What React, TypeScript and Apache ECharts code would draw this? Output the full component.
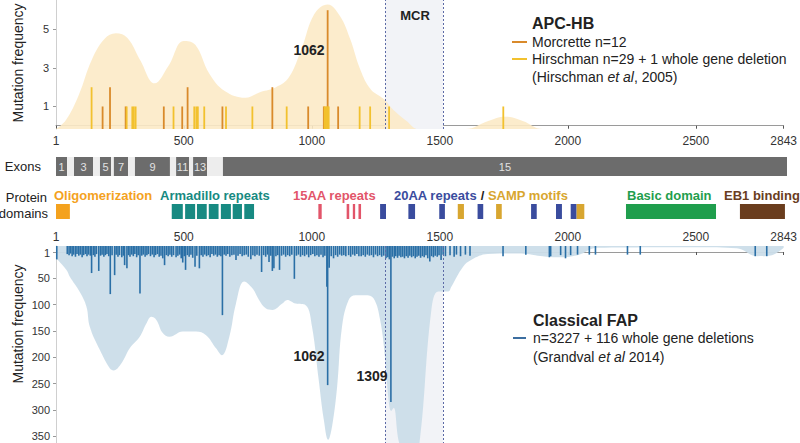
import React, { useEffect, useRef } from 'react';
import * as echarts from 'echarts';

const FONT = '"Liberation Sans", Arial, Helvetica, sans-serif';

// Codon axis
const X_MIN = 1;
const X_MAX = 2843;
const xTickValues = [1, 500, 1000, 1500, 2000, 2500, 2843];
const topYTicks = [1, 3, 5];
const bottomYTicks = [1, 50, 100, 150, 200, 250, 300, 350];
const TOP_Y_MIN = -0.17;
const TOP_Y_MAX = 6.53;
const BOT_Y_MIN = -11.4;
const BOT_Y_MAX = 363;

// Mutation cluster region
const mcrRange = [1286, 1513];

// APC-HB: Morcrette (orange) and Hirschman (yellow) mutations [codon, count]
const morcretteBars = [
  [183, 1], [212, 2], [273, 1], [422, 1], [494, 1], [515, 2], [651, 1],
  [846, 2], [986, 1], [1047, 1], [1062, 6], [1103, 1],
];
const hirschmanBars = [
  [140, 2], [277, 1], [299, 1], [305, 1], [312, 1], [460, 1], [541, 1],
  [549, 1], [555, 1], [580, 1], [665, 1], [768, 1], [902, 1], [1050, 1],
  [1054, 1], [1058, 1], [1062, 1], [1066, 1], [1187, 1], [1228, 1],
  [1302, 1], [1748, 1],
];
// APC-HB density envelope [codon, level]
const hbDensity = [
  [1, -0.17], [40, 0.3], [90, 1.6], [140, 3.4], [190, 4.5], [235, 4.8],
  [280, 4.55], [330, 3.4], [386, 2.2], [440, 3.1], [500, 4.4], [545, 4.2],
  [600, 2.7], [660, 1.8], [740, 1.45], [800, 1.75], [860, 2.0], [910, 2.5],
  [960, 4.0], [1010, 5.8], [1062, 6.3], [1110, 5.7], [1150, 4.5], [1190, 2.9],
  [1230, 1.9], [1280, 1.4], [1320, 0.8], [1370, 0.25], [1416, -0.17],
  [1600, -0.17], [1689, 0.25], [1755, 0.47], [1824, 0.25], [1902, -0.17],
  [2843, -0.17],
];

// Classical FAP mutations [codon, count]
const fapBars = [
  [4, 14], [45, 4], [52, 6], [58, 3], [64, 8], [70, 5], [77, 9], [83, 4], [90, 7],
  [96, 5], [103, 10], [109, 6], [116, 4], [122, 8], [128, 5], [135, 7], [140, 40],
  [147, 6], [153, 9], [159, 4], [168, 36], [175, 7], [181, 5], [188, 9], [194, 6],
  [200, 4], [207, 8], [213, 80], [220, 6], [230, 44], [236, 5], [243, 9], [249, 6],
  [258, 10], [264, 7], [269, 25], [278, 31], [284, 6], [290, 9], [297, 5], [303, 8],
  [309, 4], [316, 10], [322, 6], [329, 79], [336, 7], [342, 5], [349, 9], [356, 6],
  [362, 4], [370, 8], [377, 5], [384, 10], [390, 6], [397, 4], [404, 9], [411, 7],
  [418, 12], [425, 25], [432, 6], [439, 8], [446, 5], [453, 9], [460, 6], [470, 10],
  [477, 7], [484, 5], [490, 12], [496, 20], [502, 8], [507, 34], [514, 6], [521, 9],
  [528, 5], [535, 11], [544, 28], [551, 7], [561, 31], [568, 6], [575, 9], [582, 5],
  [589, 8], [596, 6], [603, 10], [610, 4], [617, 7], [624, 5], [631, 9], [638, 6],
  [645, 8], [651, 120], [658, 5], [665, 7], [672, 4], [680, 9], [688, 6], [696, 5],
  [704, 15], [712, 7], [720, 4], [728, 8], [736, 6], [744, 5], [752, 9], [762, 14],
  [770, 6], [778, 8], [786, 5], [795, 7], [804, 38], [812, 6], [820, 9], [827, 5],
  [833, 19], [840, 7], [846, 36], [852, 31], [860, 8], [867, 6], [874, 34], [882, 7],
  [890, 5], [898, 9], [906, 6], [914, 8], [922, 5], [932, 51], [940, 7], [948, 5],
  [956, 9], [964, 6], [972, 8], [980, 5], [988, 10], [996, 6], [1004, 4], [1012, 8],
  [1020, 6], [1028, 9], [1036, 5], [1044, 10], [1051, 7], [1059, 66], [1062, 253],
  [1068, 30], [1076, 8], [1085, 12], [1093, 6], [1101, 9], [1109, 5], [1117, 7],
  [1125, 6], [1133, 8], [1144, 6], [1152, 9], [1160, 5], [1168, 7], [1176, 4],
  [1184, 8], [1193, 8], [1201, 6], [1209, 9], [1217, 5], [1225, 7], [1233, 6],
  [1241, 10], [1249, 5], [1257, 8], [1265, 6], [1273, 9], [1281, 7], [1290, 12],
  [1297, 10], [1303, 14], [1309, 285], [1315, 9], [1322, 12], [1328, 8], [1335, 11],
  [1341, 7], [1348, 10], [1355, 9], [1362, 12], [1369, 8], [1376, 11], [1383, 7],
  [1390, 10], [1397, 8], [1404, 12], [1411, 9], [1418, 7], [1425, 11], [1432, 8],
  [1439, 10], [1446, 6], [1453, 12], [1461, 18], [1468, 8], [1475, 10], [1482, 7],
  [1490, 9], [1497, 6], [1505, 15], [1513, 5], [1522, 8], [1540, 6], [1556, 9],
  [1565, 5], [1581, 8], [1600, 5], [1618, 7], [1747, 8], [1836, 5], [1928, 10],
  [1933, 8], [1972, 6], [1991, 12], [2011, 6], [2038, 5], [2084, 5], [2108, 5],
  [2233, 5], [2283, 5], [2732, 8], [2777, 8],
];
// Classical FAP density envelope [codon, level]
const fapDensity = [
  [1, 12], [42, 34], [55, 47], [94, 76], [120, 104], [133, 142], [172, 186],
  [211, 221], [226, 225], [256, 212], [289, 183], [328, 161], [354, 136],
  [373, 123], [393, 129], [418, 154], [444, 161], [496, 151], [548, 151],
  [587, 158], [626, 183], [649, 196], [678, 161], [704, 98], [736, 56],
  [768, 69], [794, 91], [820, 107], [846, 110], [885, 98], [904, 91], [937, 98],
  [976, 101], [1001, 142], [1027, 243], [1047, 319], [1064, 357], [1079, 332],
  [1099, 256], [1118, 142], [1144, 91], [1170, 82], [1209, 82], [1241, 88],
  [1267, 129], [1287, 205], [1300, 281], [1310, 302], [1320, 296], [1340, 360],
  [1380, 420], [1416, 380], [1467, 110], [1494, 75], [1533, 75], [1545, 66],
  [1591, 28], [1622, 15], [1688, 4], [1805, 3], [1902, 8], [1960, 10], [2038, 6],
  [2116, -8], [2505, -9], [2660, -7], [2738, 8], [2797, 6], [2843, -8],
];

// Exon boundaries on the codon axis [start, end, exon number]
const exonStarts = [1, 44, 71, 145, 172, 215, 226, 281, 308, 444, 468, 518, 534, 588, 650];
const exonEnds = [44, 71, 145, 172, 215, 226, 281, 308, 444, 468, 518, 534, 588, 650, 2843];
const exonNumbers = [1, 2, 3, 4, 5, 6, 7, 8, 9, 10, 11, 12, 13, 14, 15];

// Protein domains [start, end, kind]
// kinds: 0 oligomerization, 1 armadillo, 2 15AA, 3 20AA, 4 SAMP, 5 basic, 6 EB1
const domainStarts = [1, 451, 503, 549, 595, 642, 688, 733, 1021, 1131, 1155, 1177,
  1261, 1371, 1491, 1640, 1848, 1945, 2002, 1563, 1712, 2025, 2217, 2660];
const domainEnds = [55, 494, 542, 587, 633, 681, 724, 771, 1034, 1141, 1164, 1187,
  1284, 1397, 1513, 1662, 1870, 1968, 2025, 1587, 1734, 2055, 2567, 2835];
const domainKinds = [0, 1, 1, 1, 1, 1, 1, 1, 2, 2, 2, 2, 3, 3, 3, 3, 3, 3, 3, 4, 4, 4, 5, 6];

const C = {
  olig: '#F4A21E',
  arm: '#178A82',
  aa15: '#E2556A',
  aa20: '#3A4C9E',
  samp: '#D8A630',
  basic: '#1F9E4D',
  eb1: '#6A3D1E',
  orange: '#D98A2B',
  yellow: '#F2C12E',
  hbArea: '#FCEAC6',
  fapBar: '#2A6FA6',
  fapArea: '#CBDDE9',
  mcr: '#F2F3F7',
  mcrLine: '#5C6AA6',
  axis: '#9A9A9A',
  text: '#222222',
};
const domainColors = [C.olig, C.arm, C.aa15, C.aa20, C.samp, C.basic, C.eb1];

const makeBarRender = (base: number, width: number, color: string) =>
  (_params: any, api: any) => {
    const x = api.value(0);
    const v = api.value(1);
    const top = api.coord([x, v]);
    const bottom = api.coord([x, base]);
    return {
      type: 'rect',
      shape: {
        x: top[0] - width / 2,
        y: Math.min(top[1], bottom[1]),
        width,
        height: Math.abs(top[1] - bottom[1]),
      },
      style: { fill: color },
    };
  };

const gridLeft = 56;
const gridWidth = 731;

const xAxisBase = (gridIndex: number, show: boolean, position: string) => ({
  type: 'value',
  gridIndex,
  min: X_MIN,
  max: X_MAX,
  show,
  position,
  splitLine: { show: false },
  axisLine: { show: true, lineStyle: { color: C.axis, width: 1 } },
  axisTick: {
    show: true,
    inside: position === 'top',
    length: 3,
    customValues: xTickValues,
    lineStyle: { color: '#555' },
  },
  axisLabel: {
    customValues: xTickValues,
    formatter: (v: number) => String(Math.round(v)),
    fontSize: 12,
    color: '#333',
    fontFamily: FONT,
    margin: position === 'top' ? 3 : 6,
  },
});

export default function App() {
  const ref = useRef<HTMLDivElement>(null);

  useEffect(() => {
    if (!ref.current) return;
    const chart = echarts.init(ref.current, null, { renderer: 'svg' });

    const exonData = exonStarts.map((s, i) => [s, exonEnds[i], exonNumbers[i]]);
    const domainData = domainStarts.map((s, i) => [s, domainEnds[i], domainKinds[i]]);

    const txt = (x: number, y: number, text: string, extra: any = {}, rich?: any) => ({
      type: 'text',
      x,
      y,
      silent: true,
      z: 100,
      style: {
        text,
        fill: extra.fill || C.text,
        fontSize: extra.fontSize || 14,
        fontWeight: extra.fontWeight || 'normal',
        fontFamily: FONT,
        align: extra.align || 'left',
        verticalAlign: 'middle',
        rich,
      },
      rotation: extra.rotation || 0,
    });

    const option: any = {
      animation: false,
      backgroundColor: '#ffffff',
      grid: [
        { left: gridLeft, top: 0, width: gridWidth, height: 129 },
        { left: gridLeft, top: 157, width: gridWidth, height: 19 },
        { left: gridLeft, top: 204, width: gridWidth, height: 15 },
        { left: gridLeft, top: 246, width: gridWidth, height: 197 },
      ],
      xAxis: [
        xAxisBase(0, true, 'bottom'),
        { ...xAxisBase(1, false, 'bottom') },
        { ...xAxisBase(2, false, 'bottom') },
        xAxisBase(3, true, 'top'),
      ],
      yAxis: [
        {
          type: 'value', gridIndex: 0, min: TOP_Y_MIN, max: TOP_Y_MAX,
          splitLine: { show: false },
          axisLine: { show: true, lineStyle: { color: '#cfcfcf' } },
          axisTick: { show: true, length: 3, customValues: topYTicks, lineStyle: { color: '#999' } },
          axisLabel: { customValues: topYTicks, fontSize: 11, color: '#333', fontFamily: FONT, margin: 7 },
        },
        { type: 'value', gridIndex: 1, min: 0, max: 1, show: false },
        { type: 'value', gridIndex: 2, min: 0, max: 1, show: false },
        {
          type: 'value', gridIndex: 3, min: BOT_Y_MIN, max: BOT_Y_MAX, inverse: true,
          splitLine: { show: false },
          axisLine: { show: true, lineStyle: { color: '#cfcfcf' } },
          axisTick: { show: true, length: 3, customValues: bottomYTicks, lineStyle: { color: '#999' } },
          axisLabel: { customValues: bottomYTicks, fontSize: 11, color: '#333', fontFamily: FONT, margin: 6 },
        },
      ],
      series: [
        {
          type: 'line', xAxisIndex: 0, yAxisIndex: 0, data: [], z: 1,
          markArea: {
            silent: true,
            itemStyle: { color: C.mcr },
            data: [[{ xAxis: mcrRange[0] }, { xAxis: mcrRange[1] }]],
          },
          markLine: {
            silent: true, symbol: 'none', label: { show: false },
            lineStyle: { color: C.mcrLine, type: [2, 2], width: 1 },
            data: [{ xAxis: mcrRange[0] }, { xAxis: mcrRange[1] }],
          },
        },
        {
          type: 'line', xAxisIndex: 3, yAxisIndex: 3, data: [], z: 1,
          markArea: {
            silent: true,
            itemStyle: { color: C.mcr },
            data: [[{ xAxis: mcrRange[0] }, { xAxis: mcrRange[1] }]],
          },
          markLine: {
            silent: true, symbol: 'none', label: { show: false },
            lineStyle: { color: C.mcrLine, type: [2, 2], width: 1 },
            data: [{ xAxis: mcrRange[0] }, { xAxis: mcrRange[1] }],
          },
        },
        {
          type: 'line', xAxisIndex: 0, yAxisIndex: 0, z: 2,
          data: hbDensity, smooth: 0.4, symbol: 'none',
          lineStyle: { width: 0 },
          areaStyle: { color: C.hbArea, opacity: 0.9, origin: 'start' },
        },
        {
          type: 'line', xAxisIndex: 3, yAxisIndex: 3, z: 2,
          data: fapDensity, smooth: 0.4, symbol: 'none',
          lineStyle: { width: 0 },
          areaStyle: { color: C.fapArea, opacity: 0.95, origin: 'start' },
        },
        {
          type: 'custom', xAxisIndex: 0, yAxisIndex: 0, z: 4,
          data: morcretteBars, encode: { x: 0, y: 1 },
          renderItem: makeBarRender(TOP_Y_MIN, 1.8, C.orange),
        },
        {
          type: 'custom', xAxisIndex: 0, yAxisIndex: 0, z: 5,
          data: hirschmanBars, encode: { x: 0, y: 1 },
          renderItem: makeBarRender(TOP_Y_MIN, 1.8, C.yellow),
        },
        {
          type: 'custom', xAxisIndex: 3, yAxisIndex: 3, z: 4,
          data: fapBars, encode: { x: 0, y: 1 },
          renderItem: makeBarRender(BOT_Y_MIN, 1.6, C.fapBar),
        },
        {
          type: 'custom', xAxisIndex: 1, yAxisIndex: 1, z: 4,
          data: exonData, encode: { x: [0, 1] },
          renderItem: (_p: any, api: any) => {
            const s = api.value(0), e = api.value(1), n = api.value(2);
            const p0 = api.coord([s, 0]);
            const p1 = api.coord([e, 1]);
            const odd = n % 2 === 1;
            const children: any[] = [
              {
                type: 'rect',
                shape: { x: p0[0], y: p1[1], width: p1[0] - p0[0], height: p0[1] - p1[1] },
                style: { fill: odd ? '#6C6C6C' : '#EDEDED' },
              },
            ];
            if (odd) {
              children.push({
                type: 'text',
                x: (p0[0] + p1[0]) / 2,
                y: (p0[1] + p1[1]) / 2,
                style: {
                  text: String(n), fill: '#E2E2E2', fontSize: 11, fontFamily: FONT,
                  align: 'center', verticalAlign: 'middle',
                },
              });
            }
            return { type: 'group', children };
          },
        },
        {
          type: 'custom', xAxisIndex: 2, yAxisIndex: 2, z: 4,
          data: domainData, encode: { x: [0, 1] },
          renderItem: (_p: any, api: any) => {
            const s = api.value(0), e = api.value(1), k = api.value(2);
            const p0 = api.coord([s, 0]);
            const p1 = api.coord([e, 1]);
            return {
              type: 'rect',
              shape: { x: p0[0], y: p1[1], width: p1[0] - p0[0], height: p0[1] - p1[1] },
              style: { fill: domainColors[k] },
            };
          },
        },
      ],
      graphic: [
        txt(18, 63, 'Mutation frequency', { fontSize: 14, align: 'center', rotation: Math.PI / 2, fill: '#222' }),
        txt(18, 324, 'Mutation frequency', { fontSize: 14, align: 'center', rotation: Math.PI / 2, fill: '#222' }),
        txt(415, 15, 'MCR', { fontSize: 13, fontWeight: 'bold', align: 'center' }),
        txt(309, 50, '1062', { fontSize: 14, fontWeight: 'bold', align: 'center' }),
        txt(309, 356, '1062', { fontSize: 14, fontWeight: 'bold', align: 'center' }),
        txt(372, 376, '1309', { fontSize: 14, fontWeight: 'bold', align: 'center' }),
        txt(532, 23, 'APC-HB', { fontSize: 16, fontWeight: 'bold' }),
        { type: 'line', z: 100, shape: { x1: 512, y1: 42, x2: 527, y2: 42 }, style: { stroke: C.orange, lineWidth: 2 } },
        txt(532, 42, 'Morcrette n=12', { fontSize: 14 }),
        { type: 'line', z: 100, shape: { x1: 512, y1: 59, x2: 527, y2: 59 }, style: { stroke: C.yellow, lineWidth: 2 } },
        txt(532, 59, 'Hirschman n=29 + 1 whole gene deletion', { fontSize: 14 }),
        txt(532, 77, '(Hirschman {i|et al}, 2005)', { fontSize: 14 },
          { i: { fontStyle: 'italic', fontSize: 14, fontFamily: FONT, fill: C.text } }),
        txt(533, 320, 'Classical FAP', { fontSize: 16, fontWeight: 'bold' }),
        { type: 'line', z: 100, shape: { x1: 513, y1: 338, x2: 526, y2: 338 }, style: { stroke: '#3C6EA0', lineWidth: 2 } },
        txt(533, 338, 'n=3227 + 116 whole gene deletions', { fontSize: 14 }),
        txt(533, 357, '(Grandval {i|et al} 2014)', { fontSize: 14 },
          { i: { fontStyle: 'italic', fontSize: 14, fontFamily: FONT, fill: C.text } }),
        txt(41, 166, 'Exons', { fontSize: 13, align: 'right' }),
        txt(47, 197, 'Protein', { fontSize: 13, align: 'right' }),
        txt(48, 213, 'domains', { fontSize: 13, align: 'right' }),
        txt(54, 195, 'Oligomerization', { fontSize: 13, fontWeight: 'bold', fill: C.olig }),
        txt(160, 195, 'Armadillo repeats', { fontSize: 13, fontWeight: 'bold', fill: C.arm }),
        txt(293, 195, '15AA repeats', { fontSize: 13, fontWeight: 'bold', fill: C.aa15 }),
        txt(394, 195, '{b|20AA repeats} {k|/} {s|SAMP motifs}', { fontSize: 13, fontWeight: 'bold', fill: C.aa20 }, {
          b: { fill: C.aa20, fontSize: 13, fontWeight: 'bold', fontFamily: FONT },
          k: { fill: '#222', fontSize: 13, fontWeight: 'bold', fontFamily: FONT },
          s: { fill: C.samp, fontSize: 13, fontWeight: 'bold', fontFamily: FONT },
        }),
        txt(627, 195, 'Basic domain', { fontSize: 13, fontWeight: 'bold', fill: C.basic }),
        txt(724, 195, 'EB1 binding', { fontSize: 13, fontWeight: 'bold', fill: C.eb1 }),
      ],
    };

    chart.setOption(option);
    return () => chart.dispose();
  }, []);

  return (
    <div
      ref={ref}
      style={{ position: 'fixed', left: 0, top: 0, width: 800, height: 443, background: '#fff' }}
    />
  );
}
